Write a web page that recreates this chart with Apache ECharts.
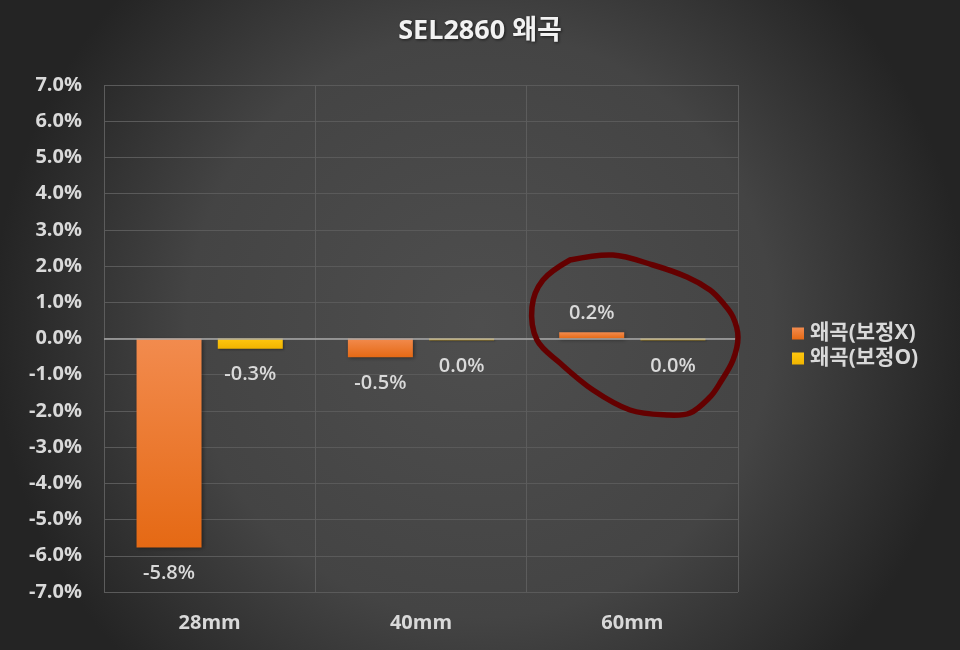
<!DOCTYPE html>
<html>
<head>
<meta charset="utf-8">
<script src="https://cdn.jsdelivr.net/npm/echarts@6/dist/echarts.min.js"></script>
<style>
html,body{margin:0;padding:0;background:#3a3a3a;}
#c{width:960px;height:650px;}
</style>
</head>
<body>
<div id="c"></div>
<script>
var categories = ['28mm', '40mm', '60mm'];
var seriesNames = ['왜곡(보정X)', '왜곡(보정O)'];
var uncorrected = [-5.77, -0.52, 0.17];
var corrected = [-0.28, -0.049, -0.049];
var yTicks = { min: -7, max: 7, interval: 1 };

var FONT = '"Open Sans", "Noto Sans CJK KR", sans-serif';
var TXT = '#d9d9d9';

function pct(v) {
  var s = Number(v).toFixed(1);
  if (s === '-0.0') s = '0.0';
  return s + '%';
}

function buildData(arr) {
  return arr.map(function (v) {
    return {
      value: v,
      label: v < 0 ? { position: 'bottom', distance: 16 } : { position: 'top', distance: 9 }
    };
  });
}

var chart = echarts.init(document.getElementById('c'), null, { renderer: 'canvas' });

var orangeGrad = new echarts.graphic.LinearGradient(0, 0, 0, 1, [
  { offset: 0, color: '#f28b4e' },
  { offset: 1, color: '#e56914' }
]);
var yellowGrad = new echarts.graphic.LinearGradient(0, 0, 0, 1, [
  { offset: 0, color: '#ffc70f' },
  { offset: 1, color: '#f0b400' }
]);

var labelStyle = {
  show: true,
  color: TXT,
  fontFamily: FONT,
  fontSize: 20,
  fontWeight: 600,
  formatter: function (p) { return pct(p.value); }
};

var option = {
  backgroundColor: new echarts.graphic.RadialGradient(0.5, 0.5, 0.75, [
    { offset: 0, color: '#4e4e4e' },
    { offset: 0.6, color: '#444444' },
    { offset: 1, color: '#242424' }
  ]),
  animation: false,
  title: {
    text: 'SEL2860 왜곡',
    left: 'center',
    top: 13,
    textStyle: {
      color: '#f2f2f2',
      fontFamily: FONT,
      fontWeight: 'bold',
      fontSize: 27,
      textShadowColor: 'rgba(0,0,0,0.6)',
      textShadowBlur: 3,
      textShadowOffsetX: 1,
      textShadowOffsetY: 1
    }
  },
  legend: {
    orient: 'vertical',
    left: 787,
    top: 318,
    itemWidth: 12,
    itemHeight: 12,
    itemGap: 4,
    icon: 'rect',
    data: seriesNames,
    textStyle: { color: TXT, fontFamily: FONT, fontSize: 21, fontWeight: 'bold', padding: [0, 0, 0, 1] }
  },
  grid: { left: 104, right: 222, top: 85, bottom: 58, containLabel: false },
  xAxis: {
    type: 'category',
    data: categories,
    axisLine: { show: false },
    axisTick: { show: false },
    splitLine: { show: true, lineStyle: { color: '#5c5c5c', width: 1 } },
    axisLabel: {
      color: TXT, fontFamily: FONT, fontSize: 20, fontWeight: 'bold', margin: 21
    }
  },
  yAxis: {
    type: 'value',
    min: yTicks.min,
    max: yTicks.max,
    interval: yTicks.interval,
    axisLine: { show: false },
    axisTick: { show: false },
    splitLine: { lineStyle: { color: '#5a5a5a', width: 1 } },
    axisLabel: {
      color: TXT, fontFamily: FONT, fontSize: 20, fontWeight: 'bold', margin: 22,
      formatter: function (v) { return pct(v); }
    }
  },
  series: [
    {
      name: seriesNames[0],
      type: 'bar',
      data: buildData(uncorrected),
      barWidth: 65,
      barGap: '25%',
      itemStyle: {
        color: orangeGrad,
        shadowColor: 'rgba(0,0,0,0.45)',
        shadowBlur: 4,
        shadowOffsetX: 1,
        shadowOffsetY: 1
      },
      label: labelStyle,
      markLine: {
        silent: true,
        symbol: 'none',
        label: { show: false },
        lineStyle: { color: '#a8a8a8', width: 1.5, type: 'solid' },
        data: [{ yAxis: 0 }]
      },
      z: 3
    },
    {
      name: seriesNames[1],
      type: 'bar',
      data: buildData(corrected),
      barWidth: 65,
      barGap: '25%',
      itemStyle: {
        color: yellowGrad,
        shadowColor: 'rgba(0,0,0,0.3)',
        shadowBlur: 2,
        shadowOffsetX: 1,
        shadowOffsetY: 1
      },
      label: labelStyle,
      z: 4
    }
  ],
  color: ['#f07f33', '#ffc000'],
  graphic: [
    {
      type: 'polyline',
      z: 100,
      shape: {
        smooth: 0.35,
        points: [
          [570, 260], [613, 255], [653, 265], [687, 277], [710, 290],
          [723, 303], [733, 317], [738, 337], [733, 360], [720, 383],
          [710, 397], [690, 413], [667, 415], [630, 410], [593, 390],
          [560, 363], [537, 340], [532, 307], [543, 280], [570, 260]
        ]
      },
      style: { stroke: '#640000', lineWidth: 5.5, fill: null, lineCap: 'round', lineJoin: 'round' }
    }
  ]
};

chart.setOption(option);
</script>
</body>
</html>
